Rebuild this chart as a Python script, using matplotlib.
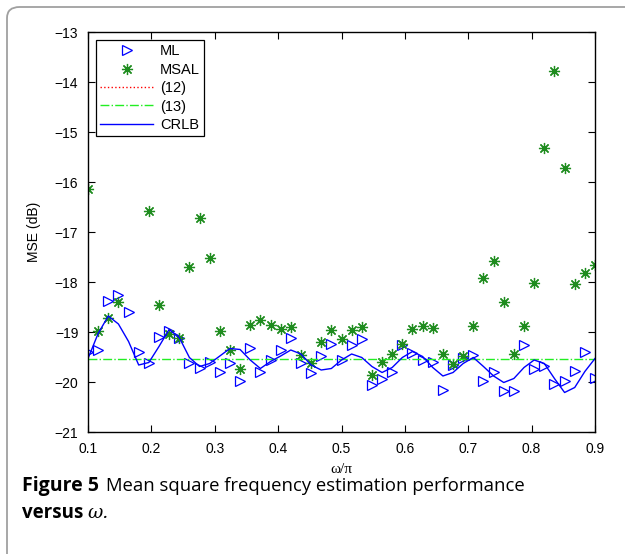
import numpy as np
import matplotlib.pyplot as plt
from matplotlib.patches import FancyBboxPatch

# omega/pi grid, 51 points from 0.1 to 0.9
omega = np.linspace(0.1, 0.9, 51)

ml = [-19.39, -19.35, -18.37, -18.26, -18.59, -19.39, -19.61, -19.09, -18.97, -19.11,
      -19.61, -19.71, -19.59, -19.81, -19.61, -19.99, -19.33, -19.81, -19.55, -19.36,
      -19.11, -19.61, -19.83, -19.49, -19.23, -19.55, -19.25, -19.15, -20.06, -19.93,
      -19.80, -19.26, -19.41, -19.55, -19.59, -20.16, -19.66, -19.51, -19.46, -19.99,
      -19.81, -20.17, -20.17, -19.26, -19.73, -19.68, -20.04, -19.99, -19.77, -19.39,
      -19.91]

# nan = point not visible in the figure
msal = [-16.13, -18.98, -18.71, -18.39, np.nan, np.nan, -16.58, -18.46, -19.04, -19.11,
        -17.69, -16.71, -17.51, -18.97, -19.36, -19.74, -18.86, -18.75, -18.86, -18.93,
        -18.89, -19.46, -19.61, -19.19, -18.95, -19.15, -18.95, -18.89, -19.86, -19.59,
        -19.44, -19.24, -18.94, -18.87, -18.91, -19.43, -19.63, -19.48, -18.88, -17.91,
        -17.57, -18.39, -19.44, -18.88, -18.01, -15.31, -13.78, -15.71, -18.03, -17.83,
        -17.66]

crlb = [-19.53, -19.03, -18.68, -18.84, -19.19, -19.66, -19.61, -19.29, -18.95, -19.11,
        -19.51, -19.69, -19.63, -19.48, -19.33, -19.35, -19.56, -19.73, -19.59, -19.48,
        -19.36, -19.44, -19.66, -19.76, -19.73, -19.56, -19.44, -19.51, -19.69, -19.81,
        -19.71, -19.51, -19.39, -19.49, -19.71, -19.88, -19.81, -19.63, -19.51, -19.69,
        -19.88, -20.01, -19.93, -19.71, -19.56, -19.63, -19.93, -20.21, -20.11, -19.79,
        -19.53]

# (13) is a flat level; (12) is not visible in the plot area (only in legend)
eq13 = -19.53

plt.rcParams['font.family'] = ['Liberation Sans', 'DejaVu Sans']

fig = plt.figure(figsize=(6.25, 5.54), dpi=100)

# rounded gray frame of the figure panel
frame = FancyBboxPatch((7/625, -0.2), 1.2, 1.2 - 7/554,
                       boxstyle="round,pad=0,rounding_size=0.02",
                       transform=fig.transFigure, fill=False,
                       edgecolor='#a0a0a0', linewidth=1.3)
fig.patches.append(frame)

ax = fig.add_axes([88/625, 1 - 432/554, 507/625, 400/554])

ax.plot(omega, ml, linestyle='none', marker='>', markersize=7.5,
        markerfacecolor='none', markeredgecolor='b', markeredgewidth=0.9, label='ML')
ax.plot(omega, msal, linestyle='none', marker=(8, 2, 0), markersize=8,
        color='#1f8c1f', markeredgewidth=0.9, label='MSAL')
ax.plot([], [], ':', color='r', linewidth=1, label='(12)')
ax.plot([0.1, 0.9], [eq13, eq13], '-.', color='#22ee22', linewidth=1, label='(13)')
ax.plot(omega, crlb, '-', color='b', linewidth=1, label='CRLB')

ax.set_xlim(0.1, 0.9)
ax.set_ylim(-21, -13)
ax.set_xticks(np.arange(0.1, 0.91, 0.1))
ax.set_xticklabels(['0.1', '0.2', '0.3', '0.4', '0.5', '0.6', '0.7', '0.8', '0.9'])
ax.set_yticks(np.arange(-21, -12.9, 1))
ax.set_yticklabels(['\u221221', '\u221220', '\u221219', '\u221218', '\u221217',
                    '\u221216', '\u221215', '\u221214', '\u221213'])
ax.tick_params(direction='in', top=True, right=True, length=5, width=0.8,
               labelsize=10, pad=7)
for s in ax.spines.values():
    s.set_linewidth(1)

ax.set_xlabel('\u03c9/\u03c0', family=['Liberation Serif', 'DejaVu Serif'], fontsize=11, labelpad=5)
ax.set_ylabel('MSE (dB)', fontsize=10, labelpad=10)

leg = ax.legend(loc='upper left', bbox_to_anchor=(0.0158, 0.98), borderaxespad=0,
                fontsize=10.5, fancybox=False, edgecolor='k', framealpha=1,
                handlelength=3.6, handletextpad=0.5, labelspacing=0.3,
                borderpad=0.3)
leg.get_frame().set_linewidth(0.9)

# caption
cap_font = ['Open Sans', 'DejaVu Sans']
fig.text(22/625, 1 - 486/554, 'Figure 5', fontsize=14, va='center',
         fontweight='bold', family=cap_font)
fig.text(106/625, 1 - 486/554, 'Mean square frequency estimation performance',
         fontsize=13.3, va='center', family=cap_font)
fig.text(22/625, 1 - 513/554, 'versus', fontsize=13.5, va='center',
         fontweight='bold', family=cap_font)
fig.text(87/625, 1 - 513/554, '\u03c9.', fontsize=13.5, va='center',
         style='italic', family=['DejaVu Serif'])

fig.savefig('out.png', dpi=100)
